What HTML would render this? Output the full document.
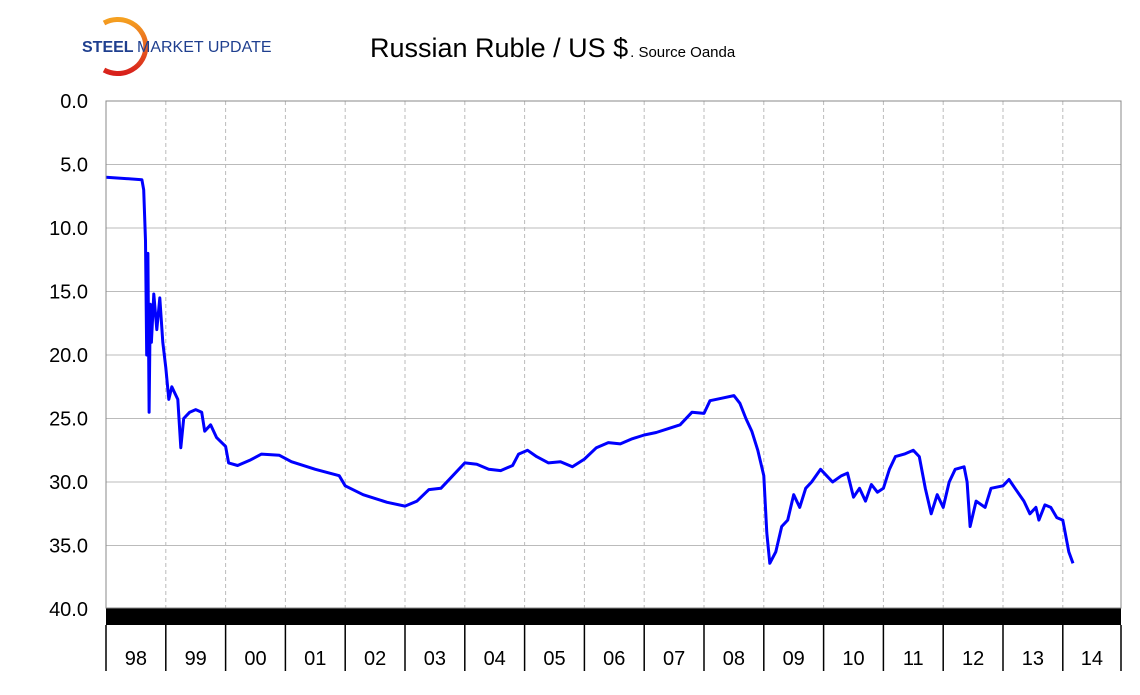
<!DOCTYPE html>
<html><head><meta charset="utf-8">
<style>
html,body{margin:0;padding:0;background:#fff;width:1140px;height:695px;overflow:hidden;font-family:"Liberation Sans",sans-serif;}
</style></head>
<body>
<svg id="chart" width="1140" height="695" xmlns="http://www.w3.org/2000/svg" font-family="Liberation Sans, sans-serif">
  <defs><linearGradient id="arcg" x1="0" y1="0" x2="0" y2="1"><stop offset="0" stop-color="#f5a020"/><stop offset="1" stop-color="#d8201c"/></linearGradient></defs>
  <g>
    <path d="M104,23 A28,27 0 1 1 104,70" fill="none" stroke="url(#arcg)" stroke-width="5"/>
    <text x="82" y="52" font-size="16" font-weight="bold" fill="#1f3f8f">STEEL</text>
    <text x="137" y="52" font-size="16" fill="#1f3f8f">MARKET UPDATE</text>
  </g>
  <text x="370" y="57" font-size="27" fill="#000">Russian Ruble / US $<tspan font-size="15" dx="2">. Source Oanda</tspan></text>
  <g id="grid"></g>
  <g id="yticks"></g>
  <rect x="106" y="608" width="1015" height="17" fill="#000"/>
  <g id="xcats"></g>
  <path id="line" fill="none" stroke="#0000ff" stroke-width="3" stroke-linejoin="round"/>
  <rect x="106" y="101" width="1015" height="507" fill="none" stroke="#888" stroke-width="1"/>
</svg>
<script>
const years=["98","99","00","01","02","03","04","05","06","07","08","09","10","11","12","13","14"];
const yTicks=[0,5,10,15,20,25,30,35,40];
const seriesT=[1998.0,1998.6,1998.63,1998.66,1998.68,1998.7,1998.72,1998.74,1998.76,1998.8,1998.85,1998.9,1998.95,1999.0,1999.05,1999.1,1999.2,1999.25,1999.3,1999.4,1999.5,1999.6,1999.65,1999.75,1999.85,2000.0,2000.05,2000.2,2000.4,2000.6,2000.9,2001.1,2001.5,2001.9,2002.0,2002.3,2002.7,2003.0,2003.2,2003.4,2003.6,2003.8,2004.0,2004.2,2004.4,2004.6,2004.8,2004.9,2005.05,2005.2,2005.4,2005.6,2005.8,2006.0,2006.2,2006.4,2006.6,2006.8,2007.0,2007.2,2007.4,2007.6,2007.8,2008.0,2008.1,2008.3,2008.5,2008.6,2008.7,2008.8,2008.9,2009.0,2009.05,2009.1,2009.2,2009.3,2009.4,2009.5,2009.6,2009.7,2009.8,2009.95,2010.05,2010.15,2010.3,2010.4,2010.5,2010.6,2010.7,2010.8,2010.9,2011.0,2011.1,2011.2,2011.35,2011.5,2011.6,2011.7,2011.8,2011.9,2012.0,2012.1,2012.2,2012.35,2012.4,2012.45,2012.55,2012.7,2012.8,2013.0,2013.1,2013.2,2013.35,2013.45,2013.55,2013.6,2013.7,2013.8,2013.9,2014.0,2014.1,2014.17];
const seriesV=[6.0,6.2,7,11,20,12,24.5,16,19,15.2,18,15.5,19,21,23.5,22.5,23.5,27.3,25,24.5,24.3,24.5,26,25.5,26.5,27.2,28.5,28.7,28.3,27.8,27.9,28.4,29,29.5,30.3,31.0,31.6,31.9,31.5,30.6,30.5,29.5,28.5,28.6,29.0,29.1,28.7,27.8,27.5,28.0,28.5,28.4,28.8,28.2,27.3,26.9,27.0,26.6,26.3,26.1,25.8,25.5,24.5,24.6,23.6,23.4,23.2,23.8,25.0,26.0,27.5,29.5,34,36.4,35.5,33.5,33.0,31.0,32.0,30.5,30.0,29.0,29.5,30.0,29.5,29.3,31.2,30.5,31.5,30.2,30.8,30.5,29.0,28.0,27.8,27.5,28.0,30.5,32.5,31.0,32.0,30.0,29.0,28.8,30.0,33.5,31.5,32.0,30.5,30.3,29.8,30.5,31.5,32.5,32.0,33.0,31.8,32.0,32.8,33.0,35.5,36.4];
const NS="http://www.w3.org/2000/svg";
const X0=106,X1=1121,Y0=101,Y1=609,YW=59.8;
const xs=t=>X0+(t-1998)*YW;
const ys=v=>Y0+(v/40)*(Y1-Y0);
const grid=document.getElementById('grid'),yt=document.getElementById('yticks'),xc=document.getElementById('xcats');
yTicks.forEach(v=>{
  const l=document.createElementNS(NS,'line');
  
  
  l.setAttribute('x1',X0);l.setAttribute('x2',X1);l.setAttribute('y1',ys(v));l.setAttribute('y2',ys(v));
  l.setAttribute('stroke','#bbb');grid.appendChild(l);
  const t=document.createElementNS(NS,'text');
  
  
  t.setAttribute('x',88);t.setAttribute('y',ys(v)+7);t.setAttribute('text-anchor','end');t.setAttribute('font-size','20');
  t.textContent=v.toFixed(1);yt.appendChild(t);
});
years.forEach((y,i)=>{
  const x=xs(1998+i);
  if(i>0){
    const g=document.createElementNS(NS,'line');
    
    
    g.setAttribute('x1',x);g.setAttribute('x2',x);g.setAttribute('y1',Y0);g.setAttribute('y2',Y1);
    g.setAttribute('stroke','#bbb');g.setAttribute('stroke-dasharray','4,3');grid.appendChild(g);
  }
  const s=document.createElementNS(NS,'line');
  
  
  s.setAttribute('x1',x);s.setAttribute('x2',x);s.setAttribute('y1',625);s.setAttribute('y2',671);
  s.setAttribute('stroke','#000');s.setAttribute('stroke-width','1.5');xc.appendChild(s);
  const right=Math.min(xs(1999+i),X1);
  const t=document.createElementNS(NS,'text');
  
  
  t.setAttribute('x',(x+right)/2);t.setAttribute('y',665);t.setAttribute('text-anchor','middle');t.setAttribute('font-size','20');
  t.textContent=y;xc.appendChild(t);
});
const e=document.createElementNS(NS,'line');


e.setAttribute('x1',X1);e.setAttribute('x2',X1);e.setAttribute('y1',625);e.setAttribute('y2',671);
e.setAttribute('stroke','#000');e.setAttribute('stroke-width','1.5');xc.appendChild(e);
document.getElementById('line').setAttribute('d',seriesT.map((t,i)=>(i?'L':'M')+xs(t).toFixed(1)+','+ys(seriesV[i]).toFixed(1)).join(''));
</script>
</body></html>
